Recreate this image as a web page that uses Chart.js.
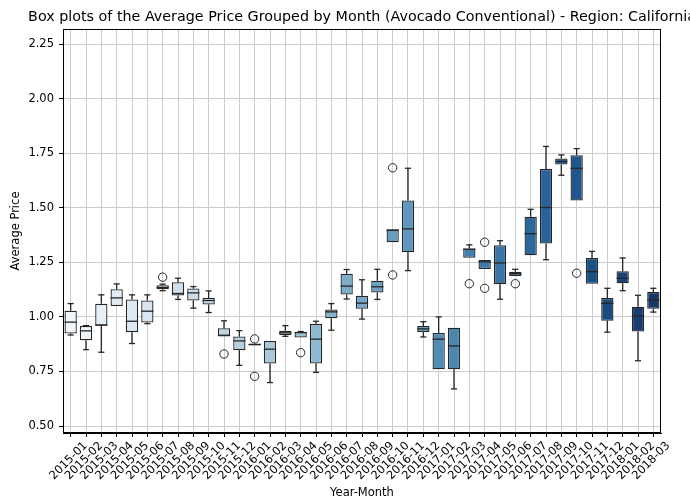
<!DOCTYPE html>
<html>
<head>
<meta charset="utf-8">
<script src="https://cdn.jsdelivr.net/npm/chart.js@4.4.1/dist/chart.umd.min.js"></script>
<style>
  html, body { margin: 0; padding: 0; background: #fff; }
</style>
</head>
<body>
<canvas id="boxchart" width="690" height="500"></canvas>
<script>
// categories
const months = [
  '2015-01','2015-02','2015-03','2015-04','2015-05','2015-06','2015-07','2015-08','2015-09','2015-10','2015-11','2015-12',
  '2016-01','2016-02','2016-03','2016-04','2016-05','2016-06','2016-07','2016-08','2016-09','2016-10','2016-11','2016-12',
  '2017-01','2017-02','2017-03','2017-04','2017-05','2017-06','2017-07','2017-08','2017-09','2017-10','2017-11','2017-12',
  '2018-01','2018-02','2018-03'
];

// box statistics, one value per month
const whiskerLow  = [0.917,0.850,0.838,1.050,0.878,0.969,1.120,1.080,1.040,1.020,0.910,0.778,
                     0.870,0.699,0.911,0.905,0.746,0.939,1.082,0.990,1.080,1.342,1.212,0.908,
                     0.760,0.670,1.271,1.219,1.081,1.187,1.282,1.262,1.649,1.533,1.152,0.930,
                     1.120,0.799,1.022];
const q1          = [0.924,0.893,0.960,1.050,0.930,0.974,1.127,1.098,1.075,1.057,0.910,0.847,
                     0.870,0.786,0.917,0.905,0.786,0.994,1.102,1.037,1.112,1.342,1.296,0.930,
                     0.760,0.760,1.271,1.219,1.149,1.187,1.282,1.336,1.698,1.533,1.152,0.982,
                     1.154,0.933,1.037];
const median      = [0.976,0.936,0.962,1.087,0.980,1.026,1.135,1.107,1.110,1.075,0.916,0.890,
                     0.873,0.852,0.927,0.928,0.898,1.023,1.141,1.063,1.138,1.397,1.403,0.945,
                     0.898,0.867,1.310,1.252,1.247,1.198,1.381,1.501,1.712,1.681,1.207,1.062,
                     1.177,1.004,1.077];
const q3          = [1.028,0.959,1.060,1.127,1.080,1.075,1.145,1.159,1.130,1.087,0.948,0.910,
                     0.878,0.890,0.936,0.931,0.968,1.034,1.198,1.097,1.166,1.401,1.533,0.958,
                     0.926,0.950,1.313,1.261,1.328,1.207,1.459,1.678,1.726,1.741,1.270,1.086,
                     1.209,1.047,1.114];
const whiskerHigh = [1.061,0.960,1.101,1.151,1.101,1.101,1.150,1.177,1.139,1.119,0.982,0.937,
                     0.878,0.890,0.960,0.933,0.980,1.061,1.217,1.170,1.218,1.401,1.681,0.978,
                     1.000,0.950,1.330,1.261,1.349,1.218,1.493,1.781,1.742,1.771,1.300,1.131,
                     1.270,1.099,1.131];
const outliers    = [[],[],[],[],[],[],[1.182],[],[],[],[0.830],[],
                     [0.899,0.728],[],[],[0.836],[],[],[],[],[],[1.683,1.192],[],[],
                     [],[],[1.152],[1.342,1.131],[],[1.152],[],[],[],[1.200],[],[],
                     [],[],[]];

// y tick labels
const yTicks = [0.50, 0.75, 1.00, 1.25, 1.50, 1.75, 2.00, 2.25];

const chartTitle = 'Box plots of the Average Price Grouped by Month (Avocado Conventional) - Region: California';

// seaborn-like "Blues" palette, desaturated to 0.75
const bluesStops = ['#f7fbff','#deebf7','#c6dbef','#9ecae1','#6baed6','#4292c6','#2171b5','#08519c','#08306b'];
function hexRgb(h) {
  return [1, 3, 5].map(k => parseInt(h.substr(k, 2), 16) / 255);
}
function bluesAt(t) {
  const p = t * (bluesStops.length - 1);
  const i = Math.min(Math.floor(p), bluesStops.length - 2);
  const f = p - i;
  const a = hexRgb(bluesStops[i]), b = hexRgb(bluesStops[i + 1]);
  const c = a.map((v, k) => v + (b[k] - v) * f);
  const l = (Math.max(...c) + Math.min(...c)) / 2;
  const d = c.map(v => Math.round((l + (v - l) * 0.75) * 255));
  return 'rgb(' + d.join(',') + ')';
}
const boxColors = months.map((m, i) => bluesAt((i + 2) / (months.length + 2)));
const lineColor = '#262626';

// whiskers, caps and medians drawn through the scales
const boxLines = {
  id: 'boxLines',
  afterDatasetsDraw(chart) {
    const { ctx, scales: { x, y } } = chart;
    const bars = chart.getDatasetMeta(0).data;
    ctx.save();
    ctx.strokeStyle = lineColor;
    ctx.lineWidth = 1.3;
    months.forEach((m, i) => {
      const cx = x.getPixelForValue(i);
      const half = bars[i].width / 2;
      const cap = bars[i].width / 4;
      const seg = (x1, y1, x2, y2) => {
        ctx.beginPath(); ctx.moveTo(x1, y1); ctx.lineTo(x2, y2); ctx.stroke();
      };
      if (whiskerHigh[i] > q3[i]) {
        const yw = y.getPixelForValue(whiskerHigh[i]);
        seg(cx, y.getPixelForValue(q3[i]), cx, yw);
        seg(cx - cap, yw, cx + cap, yw);
      }
      if (whiskerLow[i] < q1[i]) {
        const yw = y.getPixelForValue(whiskerLow[i]);
        seg(cx, y.getPixelForValue(q1[i]), cx, yw);
        seg(cx - cap, yw, cx + cap, yw);
      }
      const ym = y.getPixelForValue(median[i]);
      seg(cx - half, ym, cx + half, ym);
    });
    ctx.restore();
  }
};

// frame around the plot and the title centred over it
const frameTitle = {
  id: 'frameTitle',
  afterDraw(chart) {
    const { ctx, chartArea: a } = chart;
    ctx.save();
    ctx.strokeStyle = '#000';
    ctx.lineWidth = 1;
    ctx.strokeRect(Math.round(a.left) + 0.5, Math.round(a.top) + 0.5,
                   Math.round(a.right - a.left) - 1, Math.round(a.bottom - a.top) - 1);
    ctx.fillStyle = '#000';
    ctx.font = '14.3px "DejaVu Sans"';
    ctx.textAlign = 'center';
    ctx.textBaseline = 'alphabetic';
    ctx.fillText(chartTitle, (a.left + a.right) / 2, 21);
    ctx.restore();
  }
};

const outlierPoints = [];
outliers.forEach((list, i) => list.forEach(v => outlierPoints.push({ x: months[i], y: v })));

Chart.defaults.font.family = '"DejaVu Sans"';
Chart.defaults.font.size = 11.5;
Chart.defaults.color = '#000';

new Chart(document.getElementById('boxchart'), {
  type: 'bar',
  data: {
    labels: months,
    datasets: [{
      data: months.map((m, i) => [q1[i], q3[i]]),
      backgroundColor: boxColors,
      borderColor: lineColor,
      borderWidth: 1.3,
      borderSkipped: false,
      barPercentage: 0.8,
      categoryPercentage: 1.0,
      order: 2
    }, {
      type: 'line',
      data: outlierPoints,
      showLine: false,
      pointStyle: 'circle',
      pointRadius: 4.2,
      pointBackgroundColor: 'rgba(0,0,0,0)',
      pointBorderColor: lineColor,
      pointBorderWidth: 1,
      order: 1
    }]
  },
  options: {
    responsive: false,
    animation: false,
    devicePixelRatio: 1,
    layout: { padding: { left: 0, right: 29, top: 29, bottom: 0 } },
    plugins: { legend: { display: false }, tooltip: { enabled: false }, title: { display: false } },
    scales: {
      x: {
        offset: true,
        grid: { offset: false, color: '#cccccc', lineWidth: 1, tickColor: '#000', tickLength: 4 },
        border: { color: '#000' },
        ticks: { autoSkip: false, minRotation: 45, maxRotation: 45, labelOffset: 15, padding: 2 },
        title: { display: true, text: 'Year-Month', padding: { top: 0, bottom: 0 } },
        afterFit(s) { s.height = 67; }
      },
      y: {
        min: 0.468,
        max: 2.319,
        grid: { color: '#cccccc', lineWidth: 1, tickColor: '#000', tickLength: 4 },
        border: { color: '#000' },
        afterBuildTicks(s) { s.ticks = yTicks.map(v => ({ value: v })); },
        ticks: { padding: 5, callback: v => Number(v).toFixed(2) },
        title: { display: true, text: 'Average Price', padding: { top: 9, bottom: 0 } },
        afterFit(s) { s.width = 63; }
      }
    }
  },
  plugins: [boxLines, frameTitle]
});
</script>
</body>
</html>
